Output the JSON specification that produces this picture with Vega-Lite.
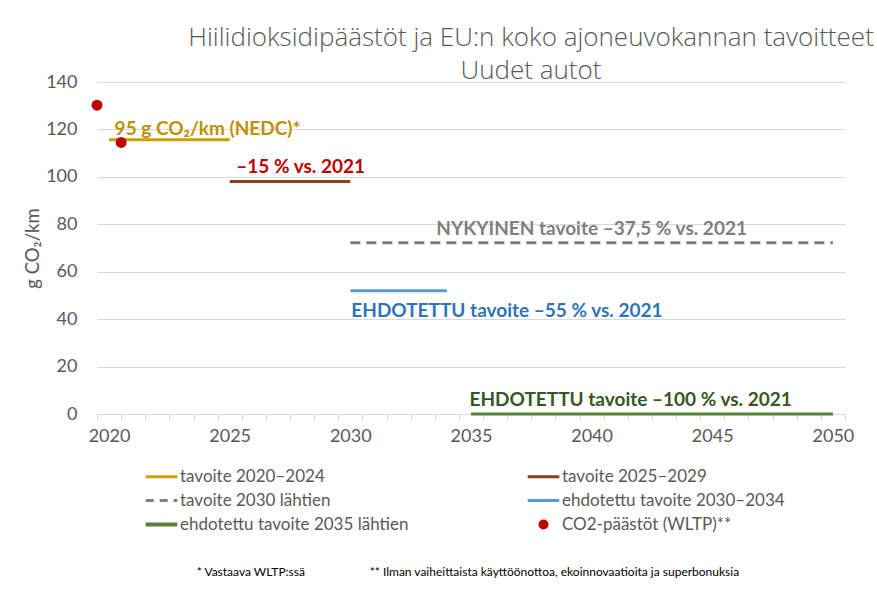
{
  "$schema": "https://vega.github.io/schema/vega-lite/v6.json",
  "width": 748,
  "height": 332,
  "autosize": {"type": "none"},
  "padding": {"left": 97, "top": 82, "right": 32, "bottom": 178},
  "background": "white",
  "config": {"font": "Lato", "view": {"stroke": null}},
  "title": {
    "text": ["Hiilidioksidipäästöt ja EU:n koko ajoneuvokannan tavoitteet", "Uudet autot"],
    "anchor": "middle",
    "dx": 60,
    "fontSize": 26,
    "font": "Open Sans",
    "fontWeight": 300,
    "color": "#595959",
    "lineHeight": 33,
    "offset": -11
  },
  "datasets": {
    "targets": [
      {"series": "tavoite 2020–2024", "year": 2020, "value": 115.6},
      {"series": "tavoite 2020–2024", "year": 2025, "value": 115.6},
      {"series": "tavoite 2025–2029", "year": 2025, "value": 98},
      {"series": "tavoite 2025–2029", "year": 2030, "value": 98},
      {"series": "tavoite 2030 lähtien", "year": 2030, "value": 72.2},
      {"series": "tavoite 2030 lähtien", "year": 2050, "value": 72.2},
      {"series": "ehdotettu tavoite 2030–2034", "year": 2030, "value": 52},
      {"series": "ehdotettu tavoite 2030–2034", "year": 2034, "value": 52},
      {"series": "ehdotettu tavoite 2035 lähtien", "year": 2035, "value": 0},
      {"series": "ehdotettu tavoite 2035 lähtien", "year": 2050, "value": 0}
    ],
    "emissions": [
      {"series": "CO2-päästöt (WLTP)**", "year": 2019.5, "value": 130.2},
      {"series": "CO2-päästöt (WLTP)**", "year": 2020.5, "value": 114.5}
    ]
  },
  "layer": [
    {
      "data": {"name": "targets"},
      "mark": {"type": "line", "clip": false},
      "encoding": {
        "x": {
          "field": "year",
          "type": "quantitative",
          "scale": {"domain": [2019.5, 2050.5], "nice": false, "zero": false},
          "axis": {
            "values": [2019.5, 2020.5, 2021.5, 2022.5, 2023.5, 2024.5, 2025.5, 2026.5, 2027.5, 2028.5, 2029.5, 2030.5, 2031.5, 2032.5, 2033.5, 2034.5, 2035.5, 2036.5, 2037.5, 2038.5, 2039.5, 2040.5, 2041.5, 2042.5, 2043.5, 2044.5, 2045.5, 2046.5, 2047.5, 2048.5, 2049.5, 2050.5],
            "tickCount": 50,
            "labelExpr": "(datum.value - 2019.5) % 5 === 0 && datum.value < 2050 ? '' + (datum.value + 0.5) : ''",
            "labelOffset": 12,
            "labelAlign": "center",
            "labelOverlap": false,
            "labelBound": false,
            "labelFlush": false,
            "grid": false,
            "domainColor": "#D9D9D9",
            "tickColor": "#D9D9D9",
            "tickSize": 6,
            "labelFontSize": 18,
            "labelColor": "#595959",
            "labelPadding": 7,
            "title": null
          }
        },
        "y": {
          "field": "value",
          "type": "quantitative",
          "scale": {"domain": [0, 140], "nice": false},
          "axis": {
            "values": [0, 20, 40, 60, 80, 100, 120, 140],
            "grid": true,
            "gridColor": "#D9D9D9",
            "domain": false,
            "ticks": false,
            "labelFontSize": 18,
            "labelColor": "#595959",
            "labelPadding": 20,
            "title": "g CO₂/km",
            "titleFontSize": 18.5,
            "titleColor": "#595959",
            "titleFontWeight": "normal",
            "titlePadding": 3
          }
        },
        "color": {
          "field": "series",
          "type": "nominal",
          "scale": {
            "domain": ["tavoite 2020–2024", "tavoite 2025–2029", "tavoite 2030 lähtien", "ehdotettu tavoite 2030–2034", "ehdotettu tavoite 2035 lähtien", "CO2-päästöt (WLTP)**"],
            "range": ["#C9A000", "#87441A", "#7F7F7F", "#5B9BD5", "#548235", "#C00000"]
          },
          "legend": {
            "orient": "none",
            "legendX": 56,
            "legendY": 386,
            "direction": "horizontal",
            "columns": 2,
            "columnPadding": 112,
            "rowPadding": 6,
            "padding": 0,
            "title": null,
            "labelFontSize": 17,
            "labelColor": "#595959",
            "labelLimit": 500,
            "labelOffset": 10,
            "symbolSize": 1000,
            "symbolType": "stroke",
            "symbolStrokeWidth": 3,
            "encode": {
              "symbols": {
                "update": {
                  "shape": {"signal": "datum.value === 'CO2-päästöt (WLTP)**' ? 'circle' : 'stroke'"},
                  "size": {"signal": "datum.value === 'CO2-päästöt (WLTP)**' ? 100 : 1000"},
                  "fill": {"signal": "datum.value === 'CO2-päästöt (WLTP)**' ? '#C00000' : 'transparent'"},
                  "strokeDash": {"signal": "datum.value === 'tavoite 2030 lähtien' ? [8, 6] : [1, 0]"},
                  "strokeWidth": {"signal": "datum.value === 'CO2-päästöt (WLTP)**' ? 0 : (datum.value === 'ehdotettu tavoite 2035 lähtien' ? 4 : 3)"}
                }
              }
            }
          }
        },
        "strokeDash": {
          "field": "series",
          "type": "nominal",
          "scale": {
            "domain": ["tavoite 2020–2024", "tavoite 2025–2029", "tavoite 2030 lähtien", "ehdotettu tavoite 2030–2034", "ehdotettu tavoite 2035 lähtien"],
            "range": [[1, 0], [1, 0], [10, 6], [1, 0], [1, 0]]
          },
          "legend": null
        },
        "strokeWidth": {
          "field": "series",
          "type": "nominal",
          "scale": {
            "domain": ["tavoite 2020–2024", "tavoite 2025–2029", "tavoite 2030 lähtien", "ehdotettu tavoite 2030–2034", "ehdotettu tavoite 2035 lähtien"],
            "range": [3, 3, 3, 2.5, 3.5]
          },
          "legend": null
        }
      }
    },
    {
      "data": {"name": "emissions"},
      "mark": {"type": "circle", "size": 120, "opacity": 1, "clip": false},
      "encoding": {
        "x": {"field": "year", "type": "quantitative"},
        "y": {"field": "value", "type": "quantitative"},
        "color": {"field": "series", "type": "nominal"}
      }
    },
    {
      "data": {"values": [{"label": "95 g CO₂/km (NEDC)*"}]},
      "mark": {"type": "text", "align": "left", "baseline": "alphabetic", "fontSize": 19, "fontWeight": "bold", "color": "#BF9000"},
      "encoding": {"x": {"datum": 2020.23}, "y": {"datum": 117.8}, "text": {"field": "label"}}
    },
    {
      "data": {"values": [{"label": "–15 % vs. 2021"}]},
      "mark": {"type": "text", "align": "left", "baseline": "alphabetic", "fontSize": 19, "fontWeight": "bold", "color": "#C00000"},
      "encoding": {"x": {"datum": 2025.27}, "y": {"datum": 101.6}, "text": {"field": "label"}}
    },
    {
      "data": {"values": [{"label": "NYKYINEN tavoite –37,5 % vs. 2021"}]},
      "mark": {"type": "text", "align": "left", "baseline": "alphabetic", "fontSize": 19, "fontWeight": "bold", "color": "#7F7F7F"},
      "encoding": {"x": {"datum": 2033.56}, "y": {"datum": 75.6}, "text": {"field": "label"}}
    },
    {
      "data": {"values": [{"label": "EHDOTETTU tavoite –55 % vs. 2021"}]},
      "mark": {"type": "text", "align": "left", "baseline": "alphabetic", "fontSize": 19, "fontWeight": "bold", "color": "#2E75B6"},
      "encoding": {"x": {"datum": 2030.04}, "y": {"datum": 40.7}, "text": {"field": "label"}}
    },
    {
      "data": {"values": [{"label": "EHDOTETTU tavoite –100 % vs. 2021"}]},
      "mark": {"type": "text", "align": "left", "baseline": "alphabetic", "fontSize": 19, "fontWeight": "bold", "color": "#375623"},
      "encoding": {"x": {"datum": 2034.94}, "y": {"datum": 3.2}, "text": {"field": "label"}}
    },
    {
      "data": {"values": [{"label": "* Vastaava WLTP:ssä"}]},
      "mark": {"type": "text", "align": "left", "baseline": "middle", "fontSize": 12, "color": "#000000"},
      "encoding": {"x": {"datum": 2023.63}, "y": {"datum": -66.5}, "text": {"field": "label"}}
    },
    {
      "data": {"values": [{"label": "** Ilman vaiheittaista käyttöönottoa, ekoinnovaatioita ja superbonuksia"}]},
      "mark": {"type": "text", "align": "left", "baseline": "middle", "fontSize": 12, "color": "#000000"},
      "encoding": {"x": {"datum": 2030.8}, "y": {"datum": -66.5}, "text": {"field": "label"}}
    }
  ]
}
